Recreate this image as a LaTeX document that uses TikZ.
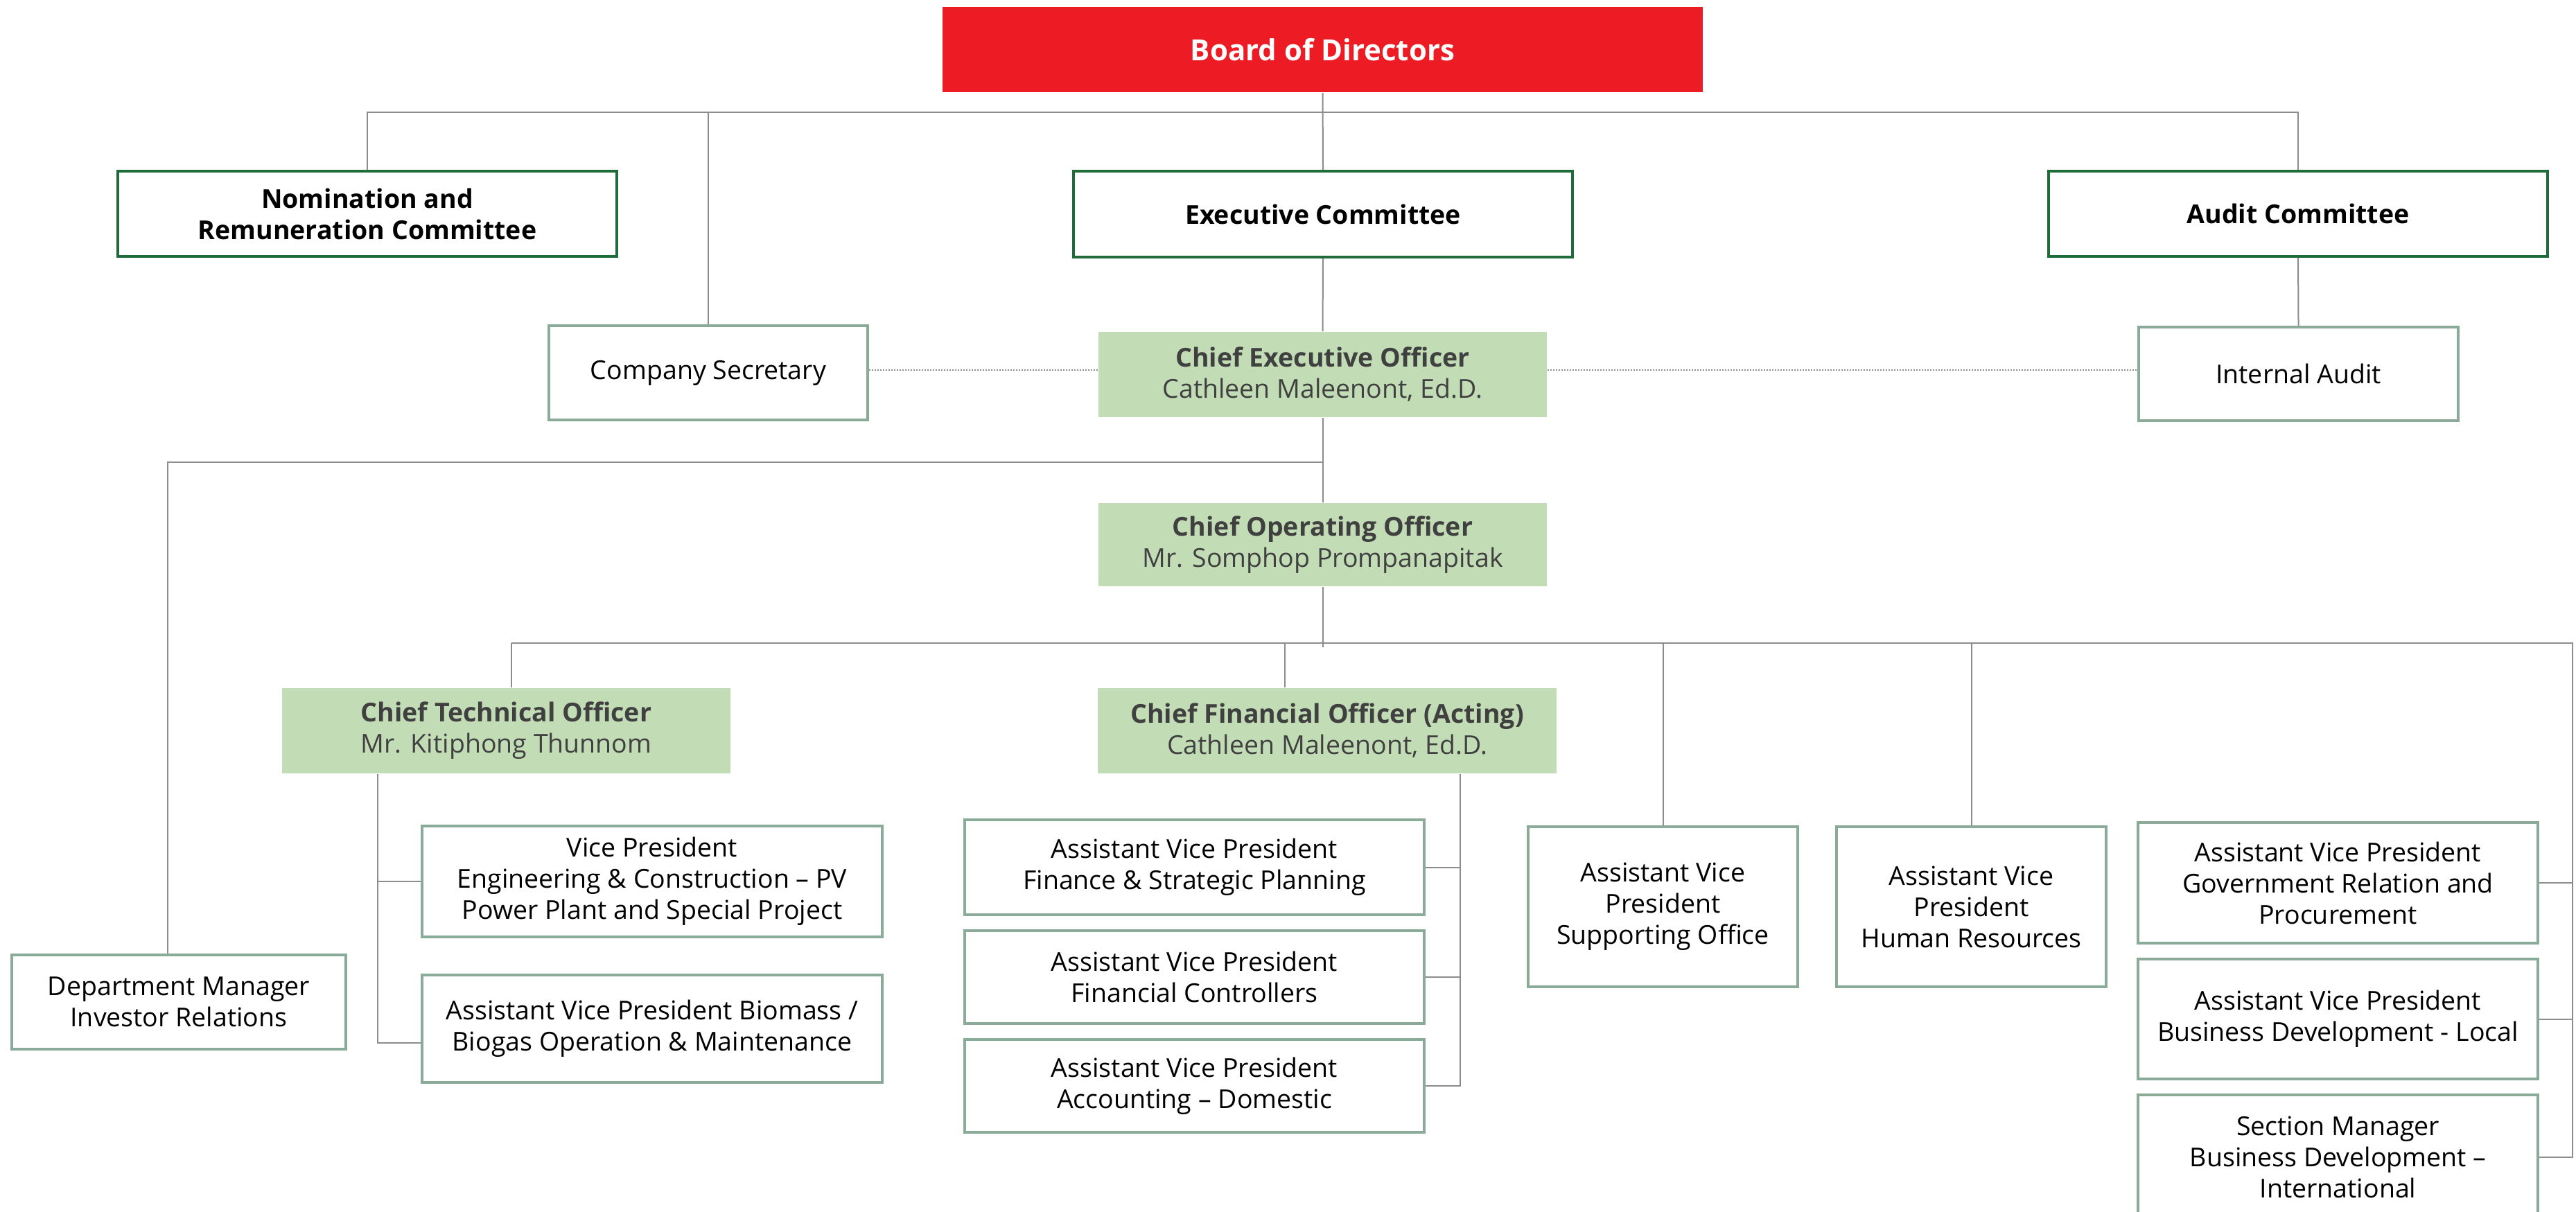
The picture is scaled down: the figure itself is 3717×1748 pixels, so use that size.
\documentclass[tikz,border=0pt]{standalone}
\usepackage{fontspec}
\setmainfont{Open Sans}
\definecolor{bodred}{HTML}{ED1C24}
\definecolor{darkgreen}{HTML}{1F6B3A}
\definecolor{boxgreen}{HTML}{89AB98}
\definecolor{lightgreen}{HTML}{C2DDB5}
\definecolor{darktext}{HTML}{404040}
\definecolor{linegray}{HTML}{8C8C8C}
\tikzset{
  conn/.style={draw=linegray, line width=0.4pt},
  dotl/.style={draw=linegray, line width=0.3pt, dash pattern=on 0.4pt off 0.4pt},
  boardbox/.style={fill=bodred, text=white, font=\fontsize{8.4}{10}\selectfont\bfseries, align=center, inner sep=0pt},
  comm/.style={draw=darkgreen, line width=0.8pt, fill=white, font=\fontsize{7.5}{9}\selectfont\bfseries, align=center, inner sep=0pt},
  plainbox/.style={draw=boxgreen, line width=0.75pt, fill=white, font=\fontsize{7.5}{9}\selectfont, align=center, inner sep=0pt},
  officer/.style={fill=lightgreen, text=darktext, font=\fontsize{7.5}{9}\selectfont, align=center, inner sep=0pt},
}
\begin{document}
\begin{tikzpicture}[x=0.2pt, y=-0.2pt]
\useasboundingbox (0,0) rectangle (3717,1748);
% top
\node[boardbox, minimum width=219.4pt, minimum height=24.6pt] (board) at (1908.5,71.5) {Board of Directors};
\node[comm, minimum width=144pt, minimum height=24.6pt] (nom) at (530,308.5) {Nomination and\\Remuneration Committee};
\node[comm, minimum width=144pt, minimum height=24.8pt] (exec) at (1909,309) {Executive Committee};
\node[comm, minimum width=144pt, minimum height=24.6pt] (aud) at (3316,308.5) {Audit Committee};
\node[plainbox, minimum width=92pt, minimum height=27.2pt] (cs) at (1022,538) {Company Secretary};
\node[officer, minimum width=129.4pt, minimum height=24.6pt] (ceo) at (1908.5,540.5) {{\bfseries Chief Executive Officer}\\Cathleen Maleenont, Ed.D.};
\node[plainbox, minimum width=92.2pt, minimum height=27pt] (ia) at (3316.5,539.5) {Internal Audit};
\node[officer, minimum width=129.4pt, minimum height=24pt] (coo) at (1908.5,786) {{\bfseries Chief Operating Officer}\\Mr. Somphop Prompanapitak};
\node[plainbox, minimum width=96.4pt, minimum height=27.2pt] (ir) at (258,1446) {Department Manager\\Investor Relations};
\node[officer, minimum width=129.4pt, minimum height=24.6pt] (cto) at (730.5,1054.5) {{\bfseries Chief Technical Officer}\\Mr. Kitiphong Thunnom};
\node[officer, minimum width=132.4pt, minimum height=24.6pt] (cfo) at (1915,1054.5) {{\bfseries Chief Financial Officer (Acting)}\\Cathleen Maleenont, Ed.D.};
\node[plainbox, minimum width=132.8pt, minimum height=32pt] (vpeng) at (941,1272) {Vice President\\Engineering \& Construction -- PV\\Power Plant and Special Project};
\node[plainbox, minimum width=132.8pt, minimum height=31pt] (bio) at (941,1484.5) {Assistant Vice President Biomass /\\Biogas Operation \& Maintenance};
\node[plainbox, minimum width=132.6pt, minimum height=27.4pt] (fin) at (1723.5,1251.5) {Assistant Vice President\\Finance \& Strategic Planning};
\node[plainbox, minimum width=132.6pt, minimum height=26.8pt] (ctrl) at (1723.5,1410) {Assistant Vice President\\Financial Controllers};
\node[plainbox, minimum width=132.6pt, minimum height=26.8pt] (acct) at (1723.5,1567) {Assistant Vice President\\Accounting -- Domestic};
\node[plainbox, minimum width=77.8pt, minimum height=46.2pt] (sup) at (2399.5,1308.5) {Assistant Vice\\President\\Supporting Office};
\node[plainbox, minimum width=77.8pt, minimum height=46.2pt] (hr) at (2844.5,1308.5) {Assistant Vice\\President\\Human Resources};
\node[plainbox, minimum width=115.4pt, minimum height=34.8pt] (gov) at (3373.5,1274) {Assistant Vice President\\Government Relation and\\Procurement};
\node[plainbox, minimum width=115.4pt, minimum height=34.6pt] (bdl) at (3373.5,1470.5) {Assistant Vice President\\Business Development - Local};
\node[plainbox, minimum width=115.4pt, minimum height=36pt] (sec) at (3373.5,1670) {Section Manager\\Business Development --\\International};
% coordinates
\coordinate (hbar) at (0,162);
\coordinate (dot) at (0,534);
\coordinate (irx) at (242,667);
\coordinate (coostub) at (1908.5,934);
\coordinate (barL) at (738,928);
\coordinate (barR) at (3712,928);
\coordinate (cfox) at (1854,928);
\coordinate (ctx) at (545,0);
\coordinate (cfx) at (2107,0);
% connectors
\draw[conn] (board.south) -- (exec.north);
\draw[conn] (nom.north) -- (nom.north |- hbar) -- (aud.north |- hbar) -- (aud.north);
\draw[conn] (cs.north) -- (cs.north |- hbar);
\draw[conn] (aud.south) -- (ia.north);
\draw[conn] (exec.south) -- (ceo.north);
\draw[dotl] (cs.east |- dot) -- (ceo.west |- dot);
\draw[dotl] (ceo.east |- dot) -- (ia.west |- dot);
\draw[conn] (ceo.south) -- (coo.north);
\draw[conn] (ceo.south |- irx) -- (irx) -- (irx |- ir.north);
\draw[conn] (coo.south) -- (coostub);
\draw[conn] (barL) -- (barR) |- (sec.east);
\draw[conn] (barL) -- (barL |- cto.north);
\draw[conn] (cfox) -- (cfox |- cfo.north);
\draw[conn] (sup.north |- barL) -- (sup.north);
\draw[conn] (hr.north |- barL) -- (hr.north);
\draw[conn] (gov.east) -- (gov.east -| barR);
\draw[conn] (bdl.east) -- (bdl.east -| barR);
\draw[conn] (cto.south -| ctx) |- ([yshift=-4.1pt]bio.west);
\draw[conn] (vpeng.west) -- (vpeng.west -| ctx);
\draw[conn] (cfo.south -| cfx) |- (acct.east);
\draw[conn] (fin.east) -- (fin.east -| cfx);
\draw[conn] (ctrl.east) -- (ctrl.east -| cfx);
\end{tikzpicture}
\end{document}
